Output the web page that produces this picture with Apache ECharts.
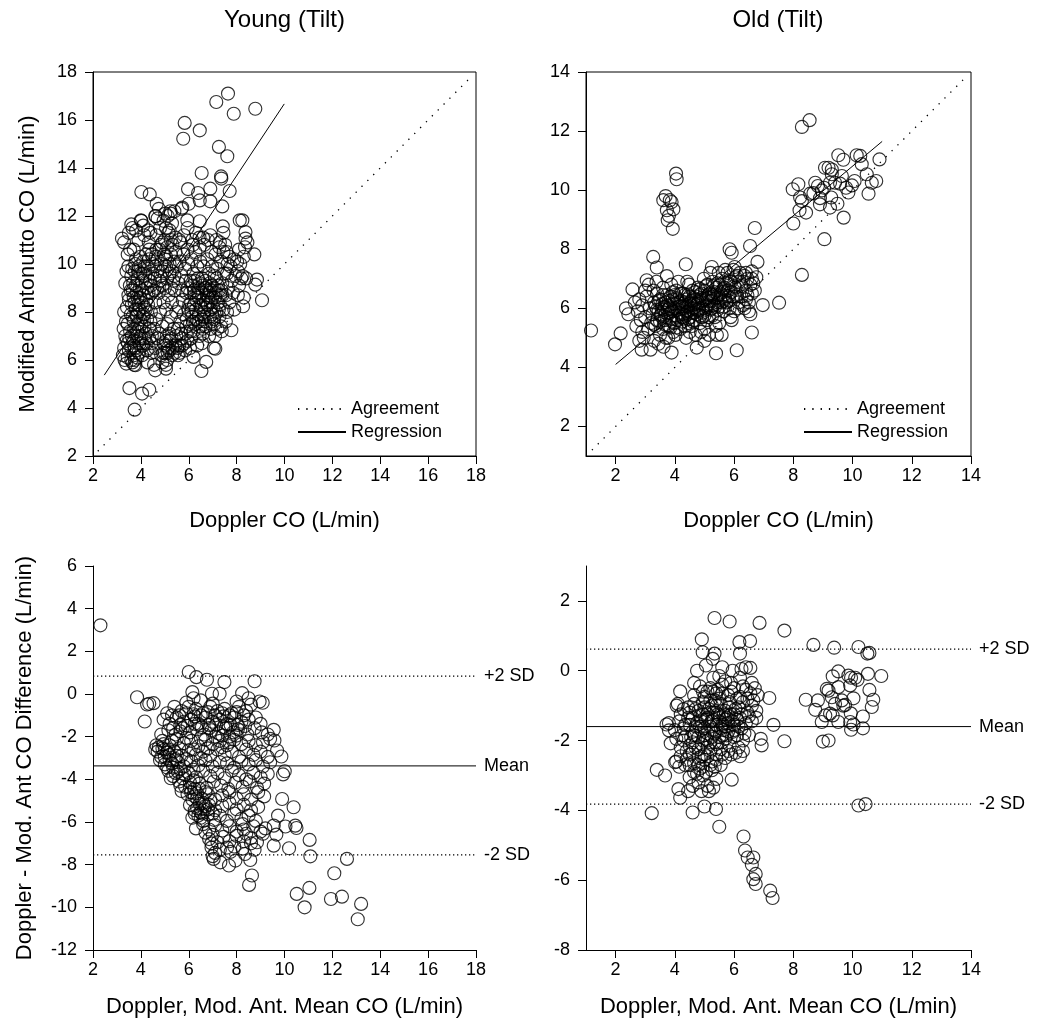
<!DOCTYPE html>
<html>
<head>
<meta charset="utf-8">
<title>Doppler vs Modified Antonutto CO (Tilt)</title>
<script src="https://cdn.jsdelivr.net/npm/echarts@6/dist/echarts.min.js"></script>
<style>
  html, body { margin: 0; padding: 0; background: #fff; }
  #chart { width: 1037px; height: 1031px; }
</style>
</head>
<body>
<div id="chart"></div>
<script>
// Doppler CO vs modified Antonutto CO during tilt, young and old subjects (L/min)
const youngTilt = [
  // outlying points
  [7.64,17.1],[7.15,16.75],[7.88,16.26],[8.78,16.47],[5.83,15.88],[5.77,15.22],[6.46,15.57],[7.26,14.88],
  [7.61,14.49],[6.54,13.79],[7.35,13.65],[7.36,13.56],[7.71,13.04],[4.02,13.0],[4.37,12.9],[5.97,13.12],
  [6.39,12.96],[6.9,13.14],[6.46,12.65],[6.9,12.61],[7.4,12.4],[4.66,12.51],[5.73,12.35],[6.0,12.51],
  [5.23,12.2],[5.02,12.1],[4.62,11.99],[4.0,11.82],[3.6,11.65],[5.94,11.82],[6.46,11.78],[8.13,11.82],
  [8.24,11.82],[7.42,11.57],[3.21,11.06],[8.37,11.33],[8.37,11.06],[8.74,10.4],[8.85,9.35],[8.78,9.14],
  [9.06,8.49],[8.27,8.24],[7.78,7.24],[7.11,6.47],[6.73,5.92],[6.53,5.54],[6.2,6.13],[4.6,5.57],
  [5.05,5.64],[3.52,4.83],[4.05,4.6],[4.35,4.76],[3.74,3.93],[3.39,5.85],[3.77,5.78],
  // main cloud
  [3.25,6.2],[3.3,6.5],[3.35,7.0],[3.28,7.3],[3.4,6.8],[3.45,6.1],[3.5,6.4],[3.38,7.6],[3.3,8.0],[3.42,8.2],
  [3.35,9.2],[3.4,9.7],[3.48,9.9],[3.45,10.4],[3.3,10.9],[3.55,10.6],[3.5,11.3],[3.55,7.2],[3.58,8.9],[3.6,9.5],
  [3.52,6.9],[3.45,7.5],[3.32,6.0],[3.6,6.0],
  [3.65,5.9],[3.7,6.2],[3.75,6.5],[3.68,6.8],[3.8,7.0],[3.72,7.3],[3.85,7.5],[3.65,7.8],[3.78,8.1],[3.9,8.3],
  [3.7,8.6],[3.82,8.8],[3.95,9.0],[3.68,9.2],[3.88,9.4],[3.75,9.7],[3.92,9.9],[3.8,10.2],[3.7,10.6],[3.9,11.0],
  [3.65,11.5],[3.8,11.4],[3.75,6.0],[3.9,6.3],[3.95,6.7],[3.85,7.2],[3.98,7.7],[3.62,7.0],[3.88,8.0],[3.96,8.6],
  [3.78,9.1],[3.98,9.6],[3.72,5.8],[3.85,6.1],
  [4.05,6.2],[4.1,6.6],[4.0,7.0],[4.15,7.4],[4.08,7.8],[4.2,8.1],[4.02,8.4],[4.12,8.7],[4.25,9.0],[4.05,9.3],
  [4.18,9.5],[4.3,9.8],[4.1,10.1],[4.22,10.4],[4.35,10.6],[4.15,11.2],[4.3,11.4],[4.4,11.3],[4.25,6.4],[4.35,6.9],
  [4.4,7.6],[4.3,8.3],[4.45,8.8],[4.38,9.3],[4.48,10.0],[4.2,7.1],[4.42,8.0],[4.1,11.6],[4.02,11.8],[4.45,6.3],
  [4.28,5.9],[4.15,9.9],[4.33,10.9],[4.48,9.6],
  [4.55,5.8],[4.6,6.5],[4.7,6.9],[4.55,7.3],[4.65,7.7],[4.8,8.0],[4.6,8.4],[4.75,8.8],[4.9,9.1],[4.58,9.4],
  [4.7,9.7],[4.85,10.0],[4.62,10.3],[4.78,10.6],[4.9,10.9],[4.65,11.2],[4.8,11.5],[4.95,11.8],[4.7,11.9],[4.6,12.0],
  [4.85,6.2],[4.95,6.7],[4.9,7.4],[4.95,8.4],[4.68,9.0],[4.82,9.5],[4.98,10.4],[4.55,8.9],[4.75,12.3],[4.9,5.9],
  [4.78,7.1],
  [5.05,5.8],[5.1,6.0],[5.0,6.3],[5.15,6.5],[5.05,6.8],[5.2,7.1],[5.1,7.5],[5.25,7.8],[5.05,8.1],[5.3,8.4],
  [5.15,8.7],[5.0,9.0],[5.35,9.3],[5.2,9.6],[5.05,9.9],[5.4,10.1],[5.25,10.4],[5.1,10.7],[5.0,11.0],[5.15,11.3],
  [5.05,11.5],[5.2,11.4],[5.3,11.7],[5.25,12.1],[5.4,12.2],[5.3,6.2],[5.45,6.6],[5.38,7.3],[5.48,8.0],[5.42,8.9],
  [5.32,10.8],[5.45,11.1],[5.18,6.4],[5.28,9.0],[5.12,12.0],
  [5.55,6.2],[5.6,6.6],[5.7,6.9],[5.55,7.3],[5.65,7.6],[5.8,7.9],[5.6,8.2],[5.75,8.5],[5.9,8.8],[5.58,9.2],
  [5.7,9.5],[5.85,9.8],[5.62,10.1],[5.78,10.4],[5.95,10.6],[5.65,10.9],[5.8,11.2],[5.95,11.5],[5.7,12.3],[5.85,6.4],
  [5.95,6.8],[5.9,7.4],[5.98,8.1],[5.72,8.9],[5.88,9.3],[5.98,10.0],[5.6,11.0],
  [6.05,6.5],[6.1,6.9],[6.2,7.2],[6.05,7.5],[6.15,7.8],[6.3,8.1],[6.1,8.4],[6.25,8.7],[6.4,9.0],[6.08,9.3],
  [6.2,9.6],[6.35,9.9],[6.12,10.2],[6.28,10.5],[6.45,10.7],[6.15,11.0],[6.3,11.3],[6.45,11.1],[6.35,6.6],[6.45,7.0],
  [6.4,7.6],[6.48,8.3],[6.22,8.9],[6.38,9.4],[6.48,10.1],[6.18,10.8],[6.42,7.9],[6.32,8.5],
  [6.55,6.7],[6.6,7.1],[6.7,7.4],[6.55,7.7],[6.65,8.0],[6.8,8.3],[6.6,8.5],[6.75,8.7],[6.9,8.9],[6.58,9.1],
  [6.7,9.3],[6.85,9.6],[6.62,9.9],[6.78,10.2],[6.95,10.5],[6.65,10.8],[6.8,11.0],[6.9,11.2],[6.85,7.0],[6.95,7.6],
  [6.9,8.1],[6.98,8.6],[6.72,9.0],[6.88,9.2],[6.98,9.9],[6.6,11.1],[6.52,8.8],[6.92,7.3],[6.68,8.2],
  [7.05,6.5],[7.1,7.0],[7.2,7.3],[7.05,7.7],[7.15,8.0],[7.3,8.3],[7.1,8.6],[7.25,8.9],[7.4,9.2],[7.08,9.5],
  [7.2,9.8],[7.35,10.1],[7.12,10.4],[7.28,10.7],[7.45,10.5],[7.15,11.0],[7.3,10.9],[7.45,11.3],[7.35,7.4],[7.45,8.1],
  [7.4,8.7],[7.48,9.6],[7.22,9.1],[7.38,7.2],
  [7.55,7.6],[7.6,8.0],[7.7,8.4],[7.55,8.7],[7.65,9.0],[7.8,9.3],[7.6,9.6],[7.75,9.9],[7.9,10.2],[7.58,10.5],
  [7.7,10.3],[7.85,8.8],[7.95,9.5],[7.9,8.1],[7.62,10.0],[7.52,10.8],
  [8.05,8.7],[8.1,9.1],[8.2,9.4],[8.05,9.7],[8.15,10.0],[8.3,10.3],[8.1,10.6],[8.25,9.5],[8.4,9.4],[8.35,10.7],
  [8.02,10.1],[8.45,10.9],[8.3,8.6],
  // denser patches
  [3.5,8.5],[3.62,8.3],[3.7,7.6],[3.82,7.8],[3.92,7.3],[4.02,7.5],[4.12,7.9],[4.22,8.5],[4.32,8.8],[4.42,9.1],
  [3.58,7.9],[3.66,8.9],[3.74,8.4],[3.86,8.6],[3.94,8.1],[4.06,8.9],[4.16,8.2],[4.26,7.7],[4.36,7.3],[4.46,7.0],
  [3.54,9.1],[3.64,9.8],[3.76,10.0],[3.88,9.7],[3.98,10.3],[4.08,9.6],[4.2,9.2],[4.34,10.2],[4.44,10.4],[3.48,8.7],
  [3.6,6.5],[3.7,6.6],[3.82,6.4],[3.94,6.9],[4.04,6.7],[4.14,6.9],[4.24,6.7],[4.34,6.5],[4.44,6.7],[3.46,6.7],
  [5.92,7.7],[6.02,8.3],[6.12,8.0],[6.22,8.3],[6.32,7.7],[6.42,8.6],[6.52,8.2],[6.62,7.8],[6.72,8.4],[6.82,8.6],
  [6.92,8.4],[7.02,8.2],[7.12,8.8],[7.22,8.4],[7.32,8.7],[5.96,9.0],[6.06,8.8],[6.16,9.1],[6.26,9.3],[6.36,8.8],
  [6.46,9.2],[6.56,9.4],[6.66,9.0],[6.76,8.9],[6.86,8.8],[6.96,9.1],[7.06,9.0],[7.16,9.4],[7.26,8.1],[7.36,8.9],
  [6.08,7.2],[6.28,7.5],[6.48,7.4],[6.68,7.6],[6.88,7.8],[7.08,7.5],[7.28,7.8],[6.18,7.6],[6.58,7.3],[6.98,7.9],
  [4.92,6.3],[5.02,6.6],[5.12,6.3],[5.22,6.8],[5.32,6.5],[5.42,6.3],[5.52,6.5],[5.62,6.3],[5.72,6.6],[5.82,6.7],
  [5.08,7.0],[5.28,6.9],[5.48,7.0],[5.68,7.1],[5.88,7.1],
  [4.6,9.9],[4.7,10.2],[4.8,9.3],[4.9,9.7],[5.0,10.2],[5.1,9.4],[5.2,10.0],[5.3,9.7],[5.4,9.5],[5.5,9.9],
  [4.65,10.6],[4.85,10.8],[5.05,10.3],[5.25,11.0],[5.45,10.5]
];

const oldTilt = [
  // outlying points
  [1.17,5.25],[1.98,4.78],[2.17,5.15],[2.35,6.0],[2.43,5.8],[2.57,6.64],[3.27,7.74],[3.39,7.38],[3.05,6.95],
  [3.73,7.09],[4.37,7.49],[3.69,9.8],[3.83,9.66],[3.89,9.6],[3.73,9.32],[3.95,9.35],[3.76,8.98],[3.8,9.13],
  [3.93,8.69],[4.04,10.56],[4.06,10.37],[3.61,9.66],[5.85,8.0],[5.92,7.88],[6.54,8.11],[6.7,8.72],[6.79,7.57],
  [6.97,6.11],[7.52,6.19],[8.29,12.14],[8.55,12.37],[8.29,7.13],[9.05,8.34],[8.0,8.87],[9.7,9.07],[6.09,4.58],
  [5.39,4.48],[6.6,5.18],[3.89,4.5],[4.74,4.67],[2.88,4.6],[3.18,4.6],
  [7.98,10.03],[8.17,10.2],[8.23,9.75],[8.29,9.63],[8.21,9.32],[8.43,9.24],[8.57,9.88],[8.74,10.25],[8.83,10.14],
  [8.68,9.9],[8.9,9.73],[8.9,9.52],[9.04,10.08],[9.07,10.76],[9.19,10.76],[9.3,10.7],[9.24,10.25],[9.3,10.54],
  [9.41,10.25],[9.28,9.75],[9.24,9.41],[9.49,9.54],[9.52,11.18],[9.69,11.03],[9.64,10.48],[9.78,10.08],[9.86,9.92],
  [9.98,10.16],[10.07,10.31],[10.14,11.18],[10.26,11.16],[10.31,10.88],[10.48,10.54],[10.54,9.88],[10.65,10.25],
  [10.8,10.31],[10.91,11.04],[9.58,10.22],[8.96,9.99],
  // main cloud
  [2.7,5.4],[2.75,5.9],[2.8,6.3],[2.85,5.6],[2.9,6.1],[2.95,5.0],[3.0,5.7],[3.05,6.4],[3.1,5.3],[3.15,6.0],
  [3.2,5.5],[2.8,4.9],[3.0,6.6],[2.9,5.2],[3.12,6.8],[2.65,6.2],
  [3.25,5.8],[3.3,6.2],[3.35,5.4],[3.4,6.5],[3.45,5.9],[3.5,5.1],[3.55,6.0],[3.6,6.7],[3.65,5.6],[3.3,4.9],
  [3.4,5.6],[3.5,6.3],[3.6,5.3],[3.68,6.2],[3.28,6.6],[3.45,4.8],[3.55,5.8],[3.62,4.7],[3.38,6.9],[3.7,5.0],
  [3.72,5.7],[3.75,6.1],[3.8,5.4],[3.85,6.4],[3.9,5.9],[3.95,5.2],[4.0,6.0],[4.05,6.6],[4.1,5.6],[4.15,6.2],
  [4.2,5.8],[3.78,5.0],[3.88,6.8],[3.98,5.5],[4.08,6.3],[4.18,5.3],[3.82,6.0],[4.02,5.1],[4.12,6.9],[3.92,6.3],
  [4.22,6.5],
  [4.25,5.7],[4.3,6.0],[4.35,5.4],[4.4,6.3],[4.45,5.9],[4.5,5.2],[4.55,6.1],[4.6,6.6],[4.65,5.6],[4.28,6.5],
  [4.38,5.0],[4.48,6.8],[4.58,5.4],[4.68,6.3],[4.32,5.8],[4.42,6.9],[4.52,5.7],[4.62,6.0],[4.5,6.4],[4.7,5.1],
  [4.35,6.2],[4.45,5.5],
  [4.75,5.8],[4.8,6.2],[4.85,5.5],[4.9,6.5],[4.95,6.0],[5.0,5.3],[5.05,6.3],[5.1,6.8],[5.15,5.7],[4.78,6.7],
  [4.88,5.2],[4.98,7.0],[5.08,5.6],[5.18,6.5],[4.82,6.0],[4.92,5.7],[5.02,6.6],[5.12,6.1],[5.2,7.2],[5.0,4.9],
  [5.15,5.1],[4.72,6.4],
  [5.25,6.0],[5.3,6.4],[5.35,5.7],[5.4,6.7],[5.45,6.2],[5.5,5.5],[5.55,6.5],[5.6,7.0],[5.65,5.9],[5.28,6.9],
  [5.38,5.4],[5.48,7.2],[5.58,6.2],[5.68,6.7],[5.32,6.1],[5.42,5.1],[5.52,6.8],[5.62,6.4],[5.7,7.3],[5.58,5.1],
  [5.25,7.4],
  [5.75,6.2],[5.8,6.6],[5.85,6.0],[5.9,6.9],[5.95,6.4],[6.0,5.9],[6.05,6.7],[6.1,7.1],[6.15,6.2],[5.78,7.2],
  [5.88,5.7],[5.98,7.3],[6.08,6.4],[6.18,6.9],[5.82,6.4],[6.02,7.4],[6.12,6.0],[5.92,5.6],[6.2,7.2],
  [6.25,6.4],[6.3,6.9],[6.35,7.1],[6.4,6.6],[6.45,7.0],[6.5,6.2],[6.55,6.8],[6.6,6.5],[6.3,6.1],[6.4,7.2],
  [6.5,5.9],[6.6,7.0],[6.7,6.6],[6.55,5.8],[6.35,6.0],
  [3.52,5.75],[3.58,6.15],[3.66,5.45],[3.74,6.45],[3.84,5.85],[3.94,6.55],[4.04,5.75],[4.14,6.05],[4.24,5.55],
  [4.34,6.45],[4.44,6.05],[4.54,5.85],[4.64,6.35],[4.74,5.95],[4.84,6.45],[4.94,6.25],[5.04,5.95],[5.14,6.45],
  [5.24,6.25],[5.34,6.55],[5.44,5.95],[5.54,6.35],[5.64,6.65],[5.74,6.85],[5.84,6.25],[3.62,5.95],[3.86,5.65],
  [4.06,6.35],[4.26,6.15],[4.46,5.65],[4.66,5.85],[4.86,5.75],[5.06,6.05],[5.26,5.75],[5.46,6.45],[5.66,6.05],
  [4.16,5.85],[4.36,5.75],[4.56,6.25],[4.76,6.15],[4.96,5.85],[5.16,6.25],[5.36,6.05],[3.96,6.15],[3.76,5.95],
  [3.3,5.45],[3.4,5.95],[3.5,5.55],[3.6,6.45],[3.7,5.85],[3.8,6.25],[3.9,5.55],[4.0,6.45],[4.1,5.95],[4.2,6.25],
  [4.3,5.65],[4.4,5.85],[4.5,6.15],[4.6,5.55],[4.7,6.55],[4.8,5.95],[4.9,6.35],[5.0,5.75],[5.1,6.35],[5.2,5.95],
  [5.3,6.75],[5.4,6.35],[5.5,6.05],[5.6,6.55],[5.7,6.35],[5.8,6.85],[5.9,6.55],[6.0,6.75],[6.1,6.45],[3.45,6.25],
  [3.65,6.05],[3.85,5.35],[4.05,5.35],[4.25,6.05],[4.45,6.45],[4.65,6.15],[4.85,6.65],[5.05,6.75],[5.25,6.45],
  [5.45,6.85],[5.65,6.25],[5.85,6.95],[6.05,7.05],[6.25,6.75],[6.45,6.45],[6.65,6.85],[6.75,7.05],[6.6,7.25],
  [6.4,6.3],[3.35,6.05]
];

// Bland-Altman: mean of both methods vs Doppler minus modified Antonutto
const youngDiff = [
  // outlying points
  [2.31,3.22],[3.84,-0.15],[4.26,-0.49],[4.35,-0.46],[4.53,-0.43],[4.16,-1.29],[6.0,1.03],[6.32,0.79],[6.76,0.67],
  [7.49,0.56],[8.75,0.6],[8.23,0.04],[6.15,0.09],[6.97,0.01],[7.29,0.01],[8.96,-0.35],[9.09,-0.41],[9.55,-1.68],
  [9.58,-2.18],[9.69,-2.65],[9.87,-2.93],[10.01,-3.62],[9.94,-3.77],[9.9,-4.92],[10.38,-5.31],[10.45,-6.17],
  [10.5,-6.28],[10.04,-6.21],[9.73,-5.7],[9.55,-6.17],[9.66,-6.59],[9.55,-7.11],[10.19,-7.23],[11.05,-6.84],
  [11.08,-7.61],[12.61,-7.73],[12.08,-8.4],[11.04,-9.09],[10.51,-9.37],[10.84,-10.0],[11.94,-9.61],[12.4,-9.5],
  [13.2,-9.84],[13.06,-10.56],[8.57,-7.78],[8.64,-8.51],[8.52,-8.95],[7.68,-8.04],[7.95,-7.81],[7.04,-7.73],
  [7.32,-7.89],
  // main cloud
  [5.1,-0.9],[5.4,-0.6],[5.7,-0.8],[6.0,-0.6],[6.3,-0.7],[6.6,-0.9],[6.9,-0.6],[7.2,-0.8],[7.5,-0.7],[7.8,-0.9],
  [8.1,-0.6],[8.4,-0.8],[8.6,-0.5],[5.9,-0.4],[6.5,-0.3],[7.0,-0.45],[8.0,-0.35],[6.2,-0.2],[8.5,-0.2],
  [4.95,-1.2],[5.2,-1.4],[5.5,-1.1],[5.8,-1.3],[6.1,-1.2],[6.4,-1.4],[6.7,-1.1],[7.0,-1.3],[7.3,-1.2],[7.6,-1.4],
  [7.9,-1.1],[8.2,-1.3],[8.5,-1.2],[8.8,-1.1],[9.0,-1.4],[5.65,-1.45],[6.25,-1.05],[6.85,-1.45],[7.45,-1.05],[8.05,-1.45],
  [4.85,-1.9],[5.15,-1.7],[5.45,-1.9],[5.75,-1.6],[6.05,-1.8],[6.35,-1.65],[6.65,-1.9],[6.95,-1.7],[7.25,-1.85],
  [7.55,-1.6],[7.85,-1.8],[8.15,-1.7],[8.45,-1.9],[8.75,-1.6],[9.05,-1.8],[9.3,-1.9],[7.7,-2.0],[7.4,-1.95],[8.0,-1.95],
  [4.65,-2.4],[4.9,-2.2],[5.2,-2.4],[5.5,-2.1],[5.8,-2.3],[6.1,-2.2],[6.4,-2.45],[6.7,-2.15],[7.0,-2.35],[7.3,-2.2],
  [7.6,-2.4],[7.9,-2.15],[8.2,-2.35],[8.5,-2.2],[8.8,-2.4],[9.1,-2.25],[9.4,-2.1],
  [4.7,-2.7],[4.85,-2.95],[5.0,-2.6],[5.2,-2.85],[5.4,-2.7],[5.7,-2.9],[6.0,-2.65],[6.3,-2.85],[6.6,-2.7],[6.9,-2.9],
  [7.2,-2.6],[7.5,-2.85],[7.8,-2.7],[8.1,-2.95],[8.4,-2.6],[8.7,-2.85],[9.0,-2.7],[9.3,-2.95],[4.9,-2.55],[5.1,-2.75],
  [4.8,-3.1],[5.0,-3.3],[5.2,-3.1],[5.35,-3.45],[5.55,-3.2],[5.8,-3.4],[6.1,-3.15],[6.4,-3.35],[6.7,-3.1],[7.0,-3.4],
  [7.3,-3.2],[7.6,-3.25],[7.9,-3.45],[8.2,-3.15],[8.5,-3.3],[8.8,-3.1],[9.1,-3.4],[9.4,-3.2],[5.1,-3.45],[5.45,-3.05],
  [5.15,-3.6],[5.35,-3.85],[5.55,-3.65],[5.75,-3.95],[6.0,-3.7],[6.3,-3.9],[6.6,-3.6],[6.9,-3.85],[7.2,-3.7],
  [7.5,-3.95],[7.8,-3.6],[8.1,-3.8],[8.4,-4.0],[8.7,-3.7],[9.0,-3.9],[9.3,-3.75],[5.25,-3.95],
  [5.6,-4.1],[5.85,-4.35],[6.05,-4.15],[6.25,-4.45],[6.45,-4.2],[6.75,-4.4],[7.05,-4.1],[7.35,-4.3],[7.65,-4.45],
  [7.95,-4.15],[8.25,-4.35],[8.55,-4.1],[8.85,-4.4],[9.15,-4.2],[5.7,-4.55],[6.1,-4.6],
  [5.95,-4.7],[6.15,-4.95],[6.35,-4.65],[6.55,-4.9],[6.8,-4.7],[7.1,-4.95],[7.4,-4.75],[7.7,-4.6],[8.0,-4.9],
  [8.3,-4.7],[8.6,-4.95],[8.9,-4.6],[9.15,-4.8],[6.25,-4.8],
  [6.05,-5.2],[6.25,-5.45],[6.45,-5.15],[6.65,-5.4],[6.85,-5.2],[7.1,-5.45],[7.4,-5.25],[7.7,-5.1],[8.0,-5.4],
  [8.3,-5.2],[8.6,-5.45],[8.9,-5.3],[6.35,-5.35],[6.55,-5.6],
  [6.15,-5.8],[6.4,-5.7],[6.6,-5.95],[6.8,-5.65],[7.05,-5.9],[7.3,-5.7],[7.6,-5.95],[7.9,-5.6],[8.2,-5.85],
  [8.5,-5.7],[8.8,-5.95],[6.25,-5.6],[6.5,-5.55],
  [6.3,-6.3],[6.6,-6.1],[6.85,-6.35],[7.1,-6.15],[7.4,-6.4],[7.7,-6.2],[8.0,-6.45],[8.25,-6.1],[8.3,-6.35],
  [8.4,-6.55],[8.7,-6.2],[9.0,-6.45],[9.2,-6.3],[6.7,-6.5],
  [6.85,-6.8],[7.0,-6.6],[7.2,-6.95],[7.45,-6.7],[7.7,-6.9],[8.0,-6.65],[8.3,-6.9],[8.6,-6.75],[8.85,-6.95],
  [9.1,-6.55],[6.95,-7.0],
  [6.95,-7.2],[7.1,-7.45],[7.3,-7.3],[7.6,-7.2],[7.75,-7.4],[7.9,-7.15],[8.25,-7.25],[8.35,-7.5],[8.6,-7.0],
  [8.75,-7.3],[7.0,-7.6],
  // denser bands
  [5.3,-1.0],[5.6,-1.0],[5.9,-0.9],[6.2,-0.95],[6.5,-1.0],[6.8,-0.85],[7.1,-1.0],[7.4,-0.9],[7.7,-1.0],[8.0,-0.85],
  [8.3,-1.0],[5.35,-1.6],[5.65,-1.75],[5.95,-1.5],[6.25,-1.4],[6.55,-1.55],[6.85,-1.6],[7.15,-1.45],[7.45,-1.55],
  [7.75,-1.45],[8.05,-1.65],[8.35,-1.5],[5.3,-2.2],[5.6,-2.55],[5.9,-2.05],[6.2,-2.6],[6.5,-2.05],[6.8,-2.55],
  [7.1,-2.0],[7.4,-2.5],[7.7,-2.25],[5.0,-2.95],[5.3,-3.25],[5.5,-2.9],[5.65,-3.5],[5.9,-3.05],[6.2,-3.55],
  [6.5,-3.0],[5.45,-3.7],[5.65,-4.3],[5.85,-3.8],[6.05,-4.4],[6.2,-4.05],[6.35,-4.9],[6.45,-4.45],[6.6,-5.1],
  [6.7,-4.6],[6.8,-5.4],[6.9,-5.0],[7.0,-5.6],[6.5,-5.8],[6.7,-5.25],[4.75,-2.5],[4.95,-2.35],[5.15,-2.6],[4.6,-2.6]
];

const oldDiff = [
  // outlying points
  [5.34,1.51],[5.85,1.41],[6.86,1.37],[7.7,1.15],[4.91,0.9],[6.18,0.82],[6.54,0.85],[4.94,0.53],[5.34,0.49],
  [6.2,0.49],[5.28,0.34],[8.68,0.74],[9.38,0.66],[10.2,0.68],[10.5,0.49],[10.57,0.51],
  [8.42,-0.83],[8.83,-0.85],[8.74,-1.12],[9.52,-0.02],[9.33,-0.16],[9.86,-0.14],[9.95,-0.2],[10.09,-0.2],
  [10.17,-0.26],[10.52,-0.09],[10.97,-0.15],[9.13,-0.52],[9.19,-0.57],[9.52,-0.47],[9.92,-0.42],[9.3,-0.76],
  [9.64,-0.85],[10.03,-0.79],[10.57,-0.55],[10.7,-0.83],[10.65,-1.04],[9.41,-0.95],[9.69,-1.0],[9.33,-1.28],
  [9.08,-1.28],[8.96,-1.47],[9.52,-1.47],[9.94,-1.22],[9.92,-1.47],[10.03,-1.54],[9.95,-1.69],[10.35,-1.31],
  [10.35,-1.65],[9.0,-2.03],[9.19,-2.0],[9.75,-0.98],[9.24,-1.23],
  [10.2,-3.86],[10.44,-3.82],[3.22,-4.08],[3.39,-2.84],[3.67,-3.0],[4.12,-3.39],[4.18,-3.64],[4.6,-4.06],
  [5.0,-3.89],[5.39,-3.96],[5.5,-4.47],[5.92,-3.12],[6.32,-4.75],[6.37,-5.15],[6.46,-5.35],[6.65,-5.35],
  [6.6,-5.56],[6.73,-5.82],[6.65,-5.97],[6.73,-6.11],[7.22,-6.3],[7.3,-6.51],[7.33,-1.55],[7.7,-2.02],
  [6.9,-1.95],[6.93,-2.14],[7.19,-0.78],[3.8,-1.71],[3.72,-1.54],[3.86,-2.08],[4.18,-0.59],[4.06,-1.0],[4.01,-2.62],
  // main cloud
  [4.75,0.0],[5.05,0.15],[5.3,-0.2],[5.6,0.1],[5.95,0.0],[6.25,0.05],[6.4,0.1],[6.55,0.08],[6.2,-0.2],[4.65,-0.35],
  [5.7,-0.3],[5.5,-0.15],
  [4.65,-0.7],[4.85,-0.45],[5.0,-0.75],[5.2,-0.5],[5.4,-0.65],[5.6,-0.4],[5.8,-0.7],[6.0,-0.5],[6.2,-0.75],
  [6.4,-0.55],[6.55,-0.65],[6.7,-0.5],[6.8,-0.7],[5.1,-0.6],[5.5,-0.8],[5.9,-0.35],[6.3,-0.45],
  [4.1,-0.95],[4.3,-1.1],[4.5,-1.2],[4.65,-0.95],[4.8,-1.15],[4.95,-0.9],[5.1,-1.25],[5.25,-1.0],[5.4,-1.2],
  [5.55,-0.95],[5.7,-1.15],[5.85,-0.9],[6.0,-1.25],[6.15,-1.05],[6.3,-0.9],[6.45,-1.2],[6.6,-1.0],[6.75,-1.15],
  [4.2,-1.25],[5.0,-1.05],[5.35,-0.85],[5.8,-1.3],[6.25,-1.25],
  [3.8,-1.5],[4.0,-1.7],[4.15,-1.45],[4.3,-1.65],[4.45,-1.35],[4.6,-1.75],[4.75,-1.5],[4.9,-1.7],[5.05,-1.4],
  [5.2,-1.6],[5.35,-1.8],[5.5,-1.45],[5.65,-1.7],[5.8,-1.5],[5.95,-1.75],[6.1,-1.4],[6.25,-1.65],[6.4,-1.5],
  [6.6,-1.45],[6.75,-1.35],[4.5,-1.55],[5.3,-1.4],[5.75,-1.35],[6.0,-1.55],[4.85,-1.3],
  [4.05,-1.95],[4.2,-2.2],[4.35,-1.9],[4.5,-2.15],[4.65,-1.85],[4.8,-2.25],[4.95,-2.0],[5.1,-2.2],[5.25,-1.9],
  [5.4,-2.1],[5.55,-2.25],[5.7,-1.95],[5.85,-2.15],[6.0,-1.9],[6.15,-2.2],[6.3,-2.0],[6.5,-1.85],[4.6,-2.05],
  [5.0,-1.85],[5.6,-2.05],[6.3,-2.3],
  [4.05,-2.6],[4.2,-2.45],[4.35,-2.7],[4.5,-2.4],[4.65,-2.65],[4.8,-2.5],[4.95,-2.75],[5.1,-2.45],[5.25,-2.6],
  [5.4,-2.4],[5.55,-2.7],[5.7,-2.5],[5.9,-2.4],[6.05,-2.35],[6.2,-2.45],[4.4,-2.55],[4.85,-2.8],[5.35,-2.75],[4.15,-2.75],
  [4.5,-3.05],[4.65,-2.9],[4.8,-3.2],[4.95,-3.0],[5.1,-3.3],[5.25,-2.85],[5.4,-3.1],[4.6,-3.3],[4.9,-3.45],
  [5.15,-3.45],[5.3,-3.35],[4.75,-2.95],[4.45,-3.45],[5.05,-2.9],
  [4.85,-1.6],[4.95,-1.25],[5.05,-1.95],[5.15,-1.1],[5.25,-1.45],[5.35,-2.05],[5.45,-1.25],[5.55,-1.65],
  [5.65,-1.25],[5.75,-1.85],[5.0,-2.4],[5.2,-2.3],[5.4,-1.55],[5.6,-1.55],[4.9,-2.1],[5.1,-1.8],[5.3,-1.2],
  [5.5,-1.9],[5.7,-1.6],[4.7,-1.6],[4.55,-1.9],[4.4,-2.3],[4.3,-2.0],[5.85,-1.05],[5.95,-1.45],[6.05,-1.1],
  [6.15,-1.6],[4.95,-0.6],[5.2,-0.85],[5.45,-0.55],
  [4.7,-1.1],[4.8,-1.9],[4.9,-1.45],[5.0,-1.65],[5.1,-1.35],[5.2,-2.05],[5.3,-1.7],[5.4,-1.0],[5.5,-1.35],
  [5.6,-1.85],[5.7,-1.4],[5.8,-1.75],[5.9,-1.25],[6.0,-1.7],[6.1,-1.85],[6.2,-1.35],[6.35,-1.8],[6.5,-1.3],
  [6.65,-0.85],[4.6,-2.35],[4.8,-2.7],[5.0,-2.55],[5.2,-2.7],[5.4,-2.55],[5.6,-2.4],[5.8,-2.3],[4.5,-2.7],
  [4.7,-2.2],[4.9,-2.45],[5.1,-2.0],[4.35,-1.55],[4.25,-1.85],[4.45,-1.05],[4.6,-1.35],[5.3,-0.6],[5.6,-0.65],
  [5.9,-0.6],[6.1,-0.8],[6.45,-0.8],[6.6,-0.35]
];

// regression fits (endpoints of the fitted segment) and agreement lines
const youngRegression = [[2.47, 5.37], [9.99, 16.67]];
const oldRegression = [[2.0, 4.1], [11.0, 11.65]];
const youngAgreement = [[2.2, 2.2], [17.8, 17.8]];
const oldAgreement = [[1.2, 1.2], [13.8, 13.8]];

// Bland-Altman limits: +2 SD, mean, -2 SD
const limitLabels = ['+2 SD', 'Mean', '-2 SD'];
const youngLimits = [0.84, -3.37, -7.54];
const oldLimits = [0.62, -1.6, -3.82];

// tick values
const youngTicks = [2, 4, 6, 8, 10, 12, 14, 16, 18];
const oldTicks = [2, 4, 6, 8, 10, 12, 14];
const youngDiffTicks = [-12, -10, -8, -6, -4, -2, 0, 2, 4, 6];
const oldDiffTicks = [-8, -6, -4, -2, 0, 2];

const FONT = 'Liberation Sans, Arial, Helvetica, sans-serif';
const black = '#000';

function axisBase(min, max, ticks, extra) {
  return Object.assign({
    min: min, max: max,
    axisLine: { show: true, onZero: false, lineStyle: { color: black, width: 1 } },
    axisTick: { show: true, inside: false, length: 8, lineStyle: { color: black, width: 1 }, customValues: ticks },
    axisLabel: { color: black, fontSize: 18, fontFamily: FONT, customValues: ticks },
    splitLine: { show: false },
    nameTextStyle: { color: black, fontSize: 22, fontFamily: FONT },
    nameLocation: 'middle'
  }, extra || {});
}

const grids = [
  { left: 93, top: 72, width: 383, height: 384, show: true, borderColor: black, borderWidth: 1, backgroundColor: 'transparent' },
  { left: 586, top: 72, width: 385, height: 384, show: true, borderColor: black, borderWidth: 1, backgroundColor: 'transparent' },
  { left: 93, top: 566, width: 383, height: 384 },
  { left: 586, top: 566, width: 385, height: 384 }
];

const xAxes = [
  axisBase(2, 18, youngTicks, { gridIndex: 0, name: 'Doppler CO (L/min)', nameGap: 54 }),
  axisBase(1, 14, oldTicks, { gridIndex: 1, name: 'Doppler CO (L/min)', nameGap: 54 }),
  axisBase(2, 18, youngTicks, { gridIndex: 2, name: 'Doppler, Mod. Ant. Mean CO (L/min)', nameGap: 46 }),
  axisBase(1, 14, oldTicks, { gridIndex: 3, name: 'Doppler, Mod. Ant. Mean CO (L/min)', nameGap: 46 })
];
xAxes.forEach(a => { a.type = 'value'; a.axisLabel.margin = 11; });

const yAxes = [
  axisBase(2, 18, youngTicks, { gridIndex: 0, name: 'Modified Antonutto CO (L/min)', nameGap: 54 }),
  axisBase(1, 14, oldTicks, { gridIndex: 1 }),
  axisBase(-12, 6, youngDiffTicks, { gridIndex: 2, name: 'Doppler - Mod. Ant CO Difference (L/min)', nameGap: 57 }),
  axisBase(-8, 3, oldDiffTicks, { gridIndex: 3 })
];
yAxes.forEach(a => { a.type = 'value'; a.axisLabel.margin = 16; });

const circleStyle = { color: 'rgba(0,0,0,0)', borderColor: black, borderWidth: 1.15 };

function scatter(data, idx) {
  return {
    type: 'scatter', xAxisIndex: idx, yAxisIndex: idx, data: data,
    symbol: 'circle', symbolSize: 13, itemStyle: circleStyle, silent: true, z: 2
  };
}

function segment(name, data, idx, dash) {
  return {
    name: name, type: 'line', xAxisIndex: idx, yAxisIndex: idx, data: data,
    symbol: 'none', silent: true, z: 3, clip: false, color: black,
    itemStyle: { color: black },
    lineStyle: { color: black, width: dash === 'solid' ? 1 : 1.3, type: dash }
  };
}

function limitSeries(values, idx, xmin, xmax) {
  return values.map((v, i) => ({
    name: limitLabels[i], type: 'line', xAxisIndex: idx, yAxisIndex: idx,
    data: [[xmin, v], [xmax, v]], symbol: 'none', silent: true, z: 3, clip: false, color: black,
    lineStyle: { color: black, width: i === 1 ? 1 : 1.3, type: i === 1 ? 'solid' : [1.3, 2.7] },
    endLabel: { show: true, formatter: limitLabels[i], color: black, fontSize: 18, fontFamily: FONT, distance: 8 }
  }));
}

const series = [
  scatter(youngTilt, 0),
  segment('Agreement', youngAgreement, 0, [1.3, 7]),
  segment('Regression', youngRegression, 0, 'solid'),
  scatter(oldTilt, 1),
  segment('Agreement', oldAgreement, 1, [1.3, 7]),
  segment('Regression', oldRegression, 1, 'solid'),
  scatter(youngDiff, 2),
  ...limitSeries(youngLimits, 2, 2, 18),
  scatter(oldDiff, 3),
  ...limitSeries(oldLimits, 3, 1, 14)
];

function legendAt(left) {
  return {
    data: ['Agreement', 'Regression'], orient: 'vertical', left: left, top: 400,
    itemWidth: 48, itemHeight: 12, itemGap: 5, padding: 0, selectedMode: false,
    itemStyle: { opacity: 0 },
    lineStyle: { color: black },
    textStyle: { color: black, fontSize: 18, fontFamily: FONT }
  };
}

const chart = echarts.init(document.getElementById('chart'), null, { renderer: 'canvas' });
chart.setOption({
  backgroundColor: '#fff',
  animation: false,
  title: [
    { text: 'Young (Tilt)', left: 284.5, top: 8, textAlign: 'center', padding: 0,
      textStyle: { color: black, fontSize: 24, fontWeight: 'normal', fontFamily: FONT } },
    { text: 'Old (Tilt)', left: 778, top: 8, textAlign: 'center', padding: 0,
      textStyle: { color: black, fontSize: 24, fontWeight: 'normal', fontFamily: FONT } }
  ],
  legend: [legendAt(297), legendAt(803)],
  grid: grids,
  xAxis: xAxes,
  yAxis: yAxes,
  series: series
});
</script>
</body>
</html>
